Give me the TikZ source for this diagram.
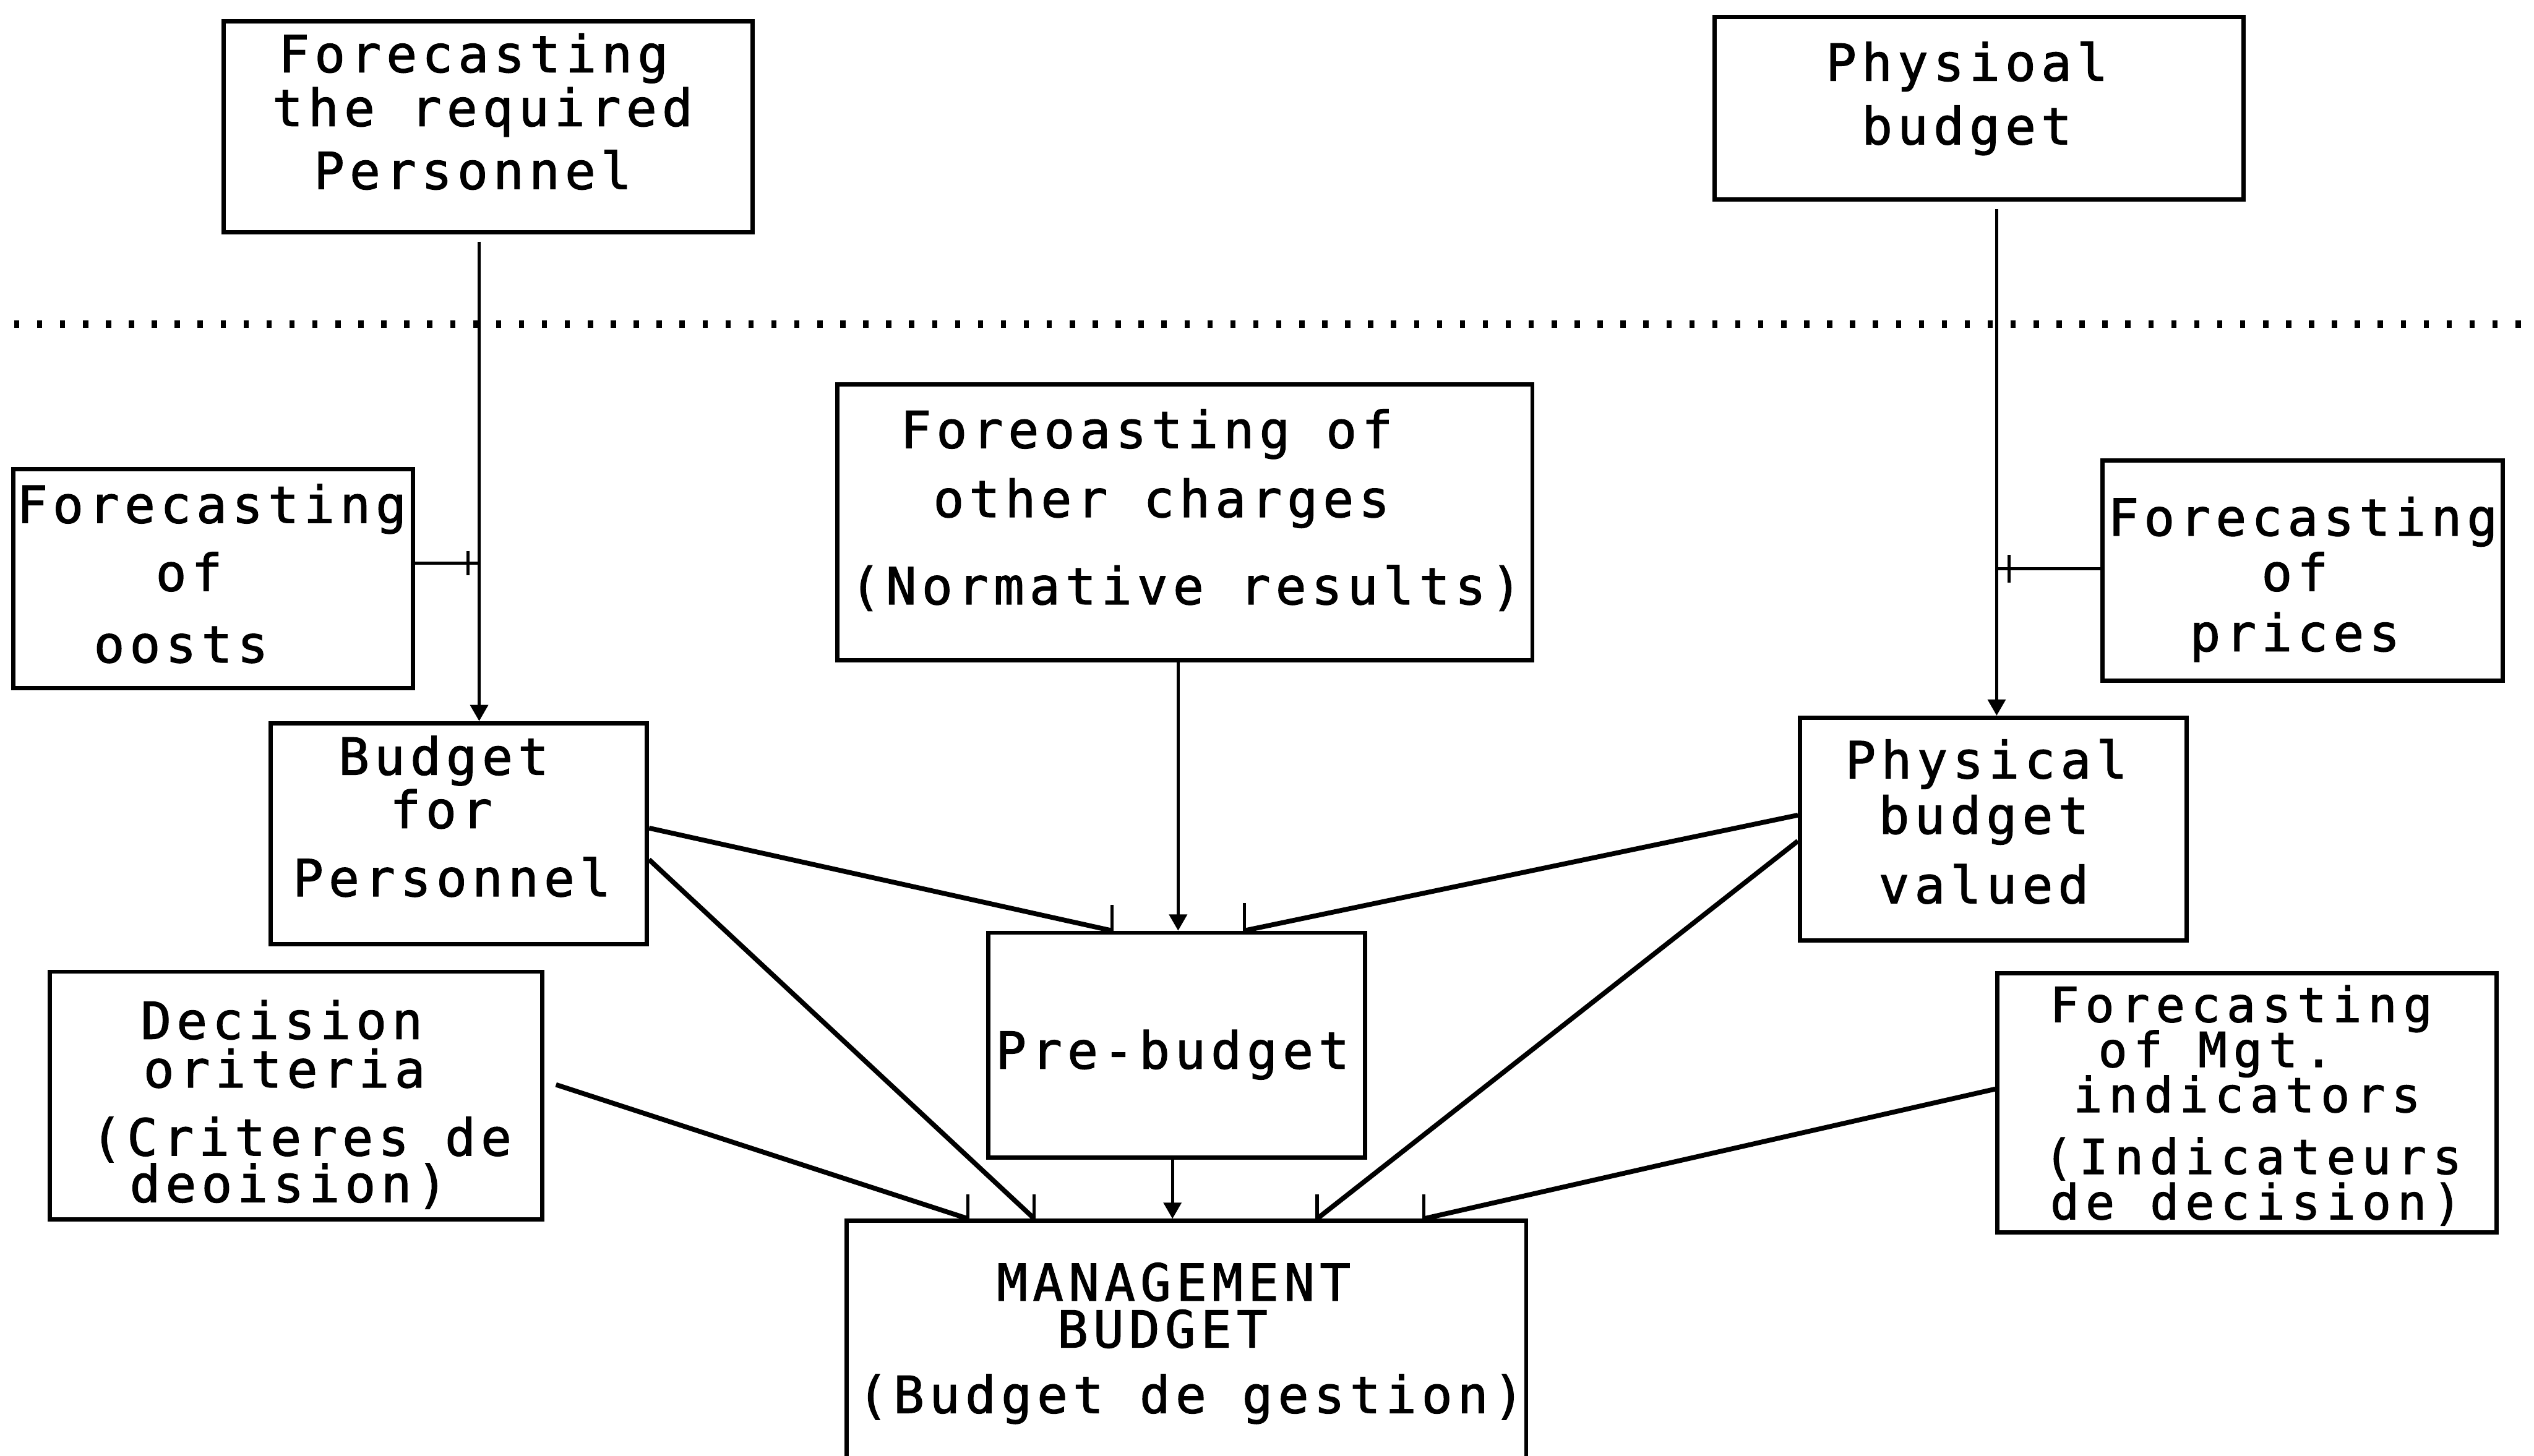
\documentclass[tikz,border=0pt]{standalone}
\usepackage{fontspec}
\setmonofont{DejaVu Sans Mono}[FakeBold=1.5]
\usetikzlibrary{arrows.meta,fit}
\begin{document}
\begin{tikzpicture}[x=0.2mm,y=-0.2mm,
  box/.style={draw, line width=1.5pt, inner sep=0pt},
  txt/.style={font=\ttfamily\fontsize{18}{18}\selectfont\addfontfeature{LetterSpace=10}, anchor=base, inner sep=0pt},
  small/.style={font=\ttfamily\fontsize{17}{17}\selectfont\addfontfeature{LetterSpace=13}},
  feed/.style={line width=1pt, -{Triangle[width=2.2mm,length=2mm]}},
  plain/.style={line width=1.1pt},
  slant/.style={line width=1.7pt},
  tickmark/.style={line width=1.1pt},
  sepline/.style={line width=0.95mm, dash pattern=on 0.65mm off 2.19mm}
]
\useasboundingbox (0,0) rectangle (1568,901);

% separation between the upstream plans and the budget level
\draw[sepline] (8.7,200.5) -- (1562,200.5);

% boxes
\node[box, fit={(138.4,13.1) (465.8,143.7)}] (A) {};
\node[box, fit={(1061,10.5) (1388.4,123.5)}] (B) {};
\node[box, fit={(8.3,290.5) (255.6,426)}] (C) {};
\node[box, fit={(518,238) (948.2,408.5)}] (D) {};
\node[box, fit={(1301,285) (1548.5,421.4)}] (E) {};
\node[box, fit={(167.4,447.6) (400.3,584.3)}] (F) {};
\node[box, fit={(1113.8,444.2) (1352.9,582)}] (G) {};
\node[box, fit={(611.6,577.3) (844.5,716.4)}] (H) {};
\node[box, fit={(30.8,601.4) (335.6,754.6)}] (I) {};
\node[box, fit={(1236,602.5) (1544.7,762.8)}] (J) {};
\node[box, fit={(524,755.6) (944.4,915)}] (K) {};

% box texts
\node[txt] (tA1) at (293,44.7) {Forecasting};
\node[txt] (tA2) at (298.6,78) {the required};
\node[txt] (tA3) at (292.5,117) {Personnel};

\node[txt] (tB1) at (1217,50) {Physioal};
\node[txt] (tB2) at (1217,89.3) {budget};

\node[txt] (tC1) at (131,323.6) {Forecasting};
\node[txt] (tC2) at (117,365.7) {of};
\node[txt] (tC3) at (112,410) {oosts};

\node[txt] (tD1) at (709.5,277.3) {Foreoasting of};
\node[txt] (tD2) at (718.7,320) {other charges};
\node[txt] (tD3) at (733.8,374) {(Normative results)};

\node[txt] (tE1) at (1425,331.5) {Forecasting};
\node[txt] (tE2) at (1420,365.7) {of};
\node[txt] (tE3) at (1420,403) {prices};

\node[txt] (tF1) at (274.5,479.5) {Budget};
\node[txt] (tF2) at (273,512.5) {for};
\node[txt] (tF3) at (279.5,554.7) {Personnel};

\node[txt] (tG1) at (1229,481.7) {Physical};
\node[txt] (tG2) at (1227.5,516) {budget};
\node[txt] (tG3) at (1227.5,559) {valued};

\node[txt] (tH1) at (725.5,661.4) {Pre-budget};

\node[txt] (tI1) at (174.3,643) {Decision};
\node[txt] (tI2) at (176,673) {oriteria};
\node[txt] (tI3) at (186.5,715.2) {(Criteres de};
\node[txt] (tI4) at (178.6,744) {deoision)};

\node[txt, small] (tJ1) at (1386.8,632.5) {Forecasting};
\node[txt, small] (tJ2) at (1371,660.4) {of Mgt.};
\node[txt, small] (tJ3) at (1390.4,688.3) {indicators};
\node[txt, small] (tJ4) at (1394,726.6) {(Indicateurs};
\node[txt, small] (tJ5) at (1396,754.6) {de decision)};

\node[txt] (tK1) at (726.3,805) {MANAGEMENT};
\node[txt] (tK2) at (719.3,834) {BUDGET};
\node[txt] (tK3) at (736.9,874.5) {(Budget de gestion)};

% columns of the vertical flows
\coordinate (xAF) at (296.5,0);
\coordinate (xBG) at (1235.5,0);
\coordinate (xDH) at (729,0);
\coordinate (xHK) at (725.5,0);

\draw[feed, shorten <=0.9mm] (A.south -| xAF) -- (F.north -| xAF);
\draw[feed, shorten <=0.9mm] (B.south -| xBG) -- (G.north -| xBG);
\draw[feed] (D.south -| xDH) -- (H.north -| xDH);
\draw[feed] (H.south -| xHK) -- (K.north -| xHK);

% side inputs joining the vertical flows
\coordinate (jC) at (xAF |- 0,348.5);
\draw[plain] (C.east |- jC) -- (jC);
\draw[tickmark] ([xshift=-1.4mm]jC) ++(0,-7.5) -- ++(0,15);

\coordinate (jE) at (xBG |- 0,352);
\draw[plain] (E.west |- jE) -- (jE);
\draw[tickmark] ([xshift=1.5mm]jE) ++(0,-8.5) -- ++(0,17);

% inputs of the pre-budget
\coordinate (hF) at (H.north -| 688,0);
\coordinate (hG) at (H.north -| 770,0);
\draw[slant] (F.east |- 0,512.5) -- (hF);
\draw[slant] (G.west |- 0,504.5) -- (hG);
\draw[tickmark] (hF) -- ++(0,-16);
\draw[tickmark] (hG) -- ++(0,-17);

% inputs of the management budget
\coordinate (kI) at (K.north -| 599,0);
\coordinate (kF) at (K.north -| 640,0);
\coordinate (kG) at (K.north -| 815,0);
\coordinate (kJ) at (K.north -| 881,0);
\draw[slant, shorten <=1.5mm] (I.east |- 0,669) -- (kI);
\draw[slant] (F.east |- 0,532) -- (kF);
\draw[slant] (G.west |- 0,520.5) -- (kG);
\draw[slant] (J.west |- 0,674) -- (kJ);
\foreach \k in {kI,kF,kG,kJ} \draw[tickmark] (\k) -- ++(0,-15);
\end{tikzpicture}
\end{document}
